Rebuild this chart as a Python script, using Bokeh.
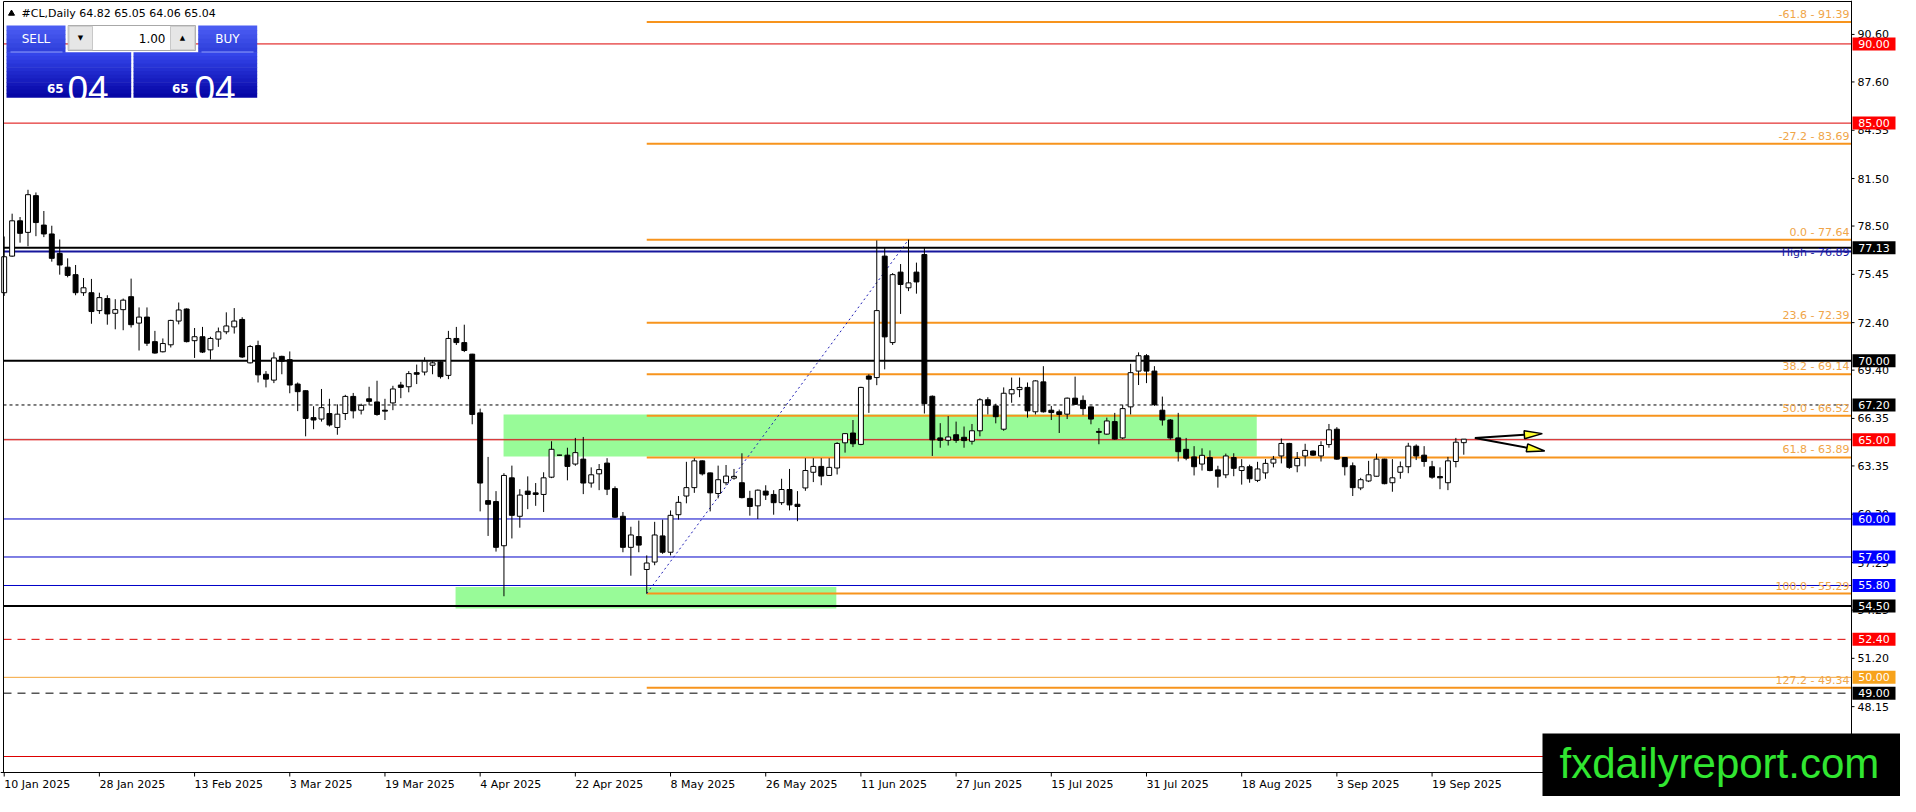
import numpy as np
from bokeh.plotting import figure
from bokeh.models import Range1d
from bokeh.core.properties import value
from bokeh.embed import file_html
from bokeh.resources import INLINE

# daily candles, one per trading day from 10 Jan 2025
opens = [74.29, 76.60, 78.83, 78.10, 80.42, 78.56, 78.00, 76.77, 75.90, 75.43,
         74.29, 74.29, 73.16, 73.92, 72.99, 73.22, 74.04, 72.37, 72.75, 71.20,
         70.56, 71.00, 72.50, 73.26, 71.26, 71.51, 70.68, 71.36, 71.82, 72.13,
         72.60, 69.86, 70.95, 69.14, 68.77, 70.27, 70.06, 68.52, 68.10, 66.40,
         66.31, 66.66, 65.78, 66.66, 67.74, 66.87, 67.59, 67.39, 66.87, 67.33,
         68.46, 68.35, 69.24, 69.28, 69.71, 69.92, 69.07, 71.40, 71.14, 70.41,
         66.70, 61.16, 61.10, 58.31, 62.60, 60.17, 61.76, 61.65, 61.55, 62.64,
         64.03, 64.03, 63.47, 63.78, 62.27, 62.85, 63.53, 61.92, 60.17, 58.21,
         58.89, 56.81, 57.28, 58.93, 57.90, 60.27, 61.45, 61.98, 63.67, 62.91,
         61.61, 62.29, 62.58, 62.29, 61.30, 60.83, 61.76, 61.55, 61.03, 61.86,
         60.93, 61.96, 62.95, 63.32, 62.75, 63.22, 64.81, 65.43, 64.71, 69.03,
         68.93, 76.60, 71.14, 75.59, 74.60, 75.59, 76.70, 67.75, 65.12, 64.97,
         65.32, 65.16, 64.91, 65.57, 67.53, 67.14, 65.67, 67.90, 68.17, 68.31,
         66.77, 68.66, 66.87, 66.77, 66.62, 67.63, 67.49, 67.08, 65.53, 65.36,
         66.15, 65.12, 67.08, 69.34, 70.31, 69.34, 66.87, 66.25, 65.12, 64.40,
         63.92, 63.47, 63.88, 63.10, 62.79, 63.88, 63.06, 63.30, 62.44, 62.91,
         63.53, 63.98, 64.77, 63.36, 63.98, 64.29, 63.98, 64.70, 65.67, 63.88,
         63.36, 61.96, 62.40, 62.70, 63.78, 62.29, 62.95, 63.30, 64.60, 64.03,
         63.30, 62.68, 62.29, 63.63, 64.82]
highs = [77.84, 79.28, 79.07, 80.79, 80.62, 79.45, 78.52, 77.65, 76.46, 76.04,
         75.22, 75.16, 74.29, 74.13, 73.88, 73.92, 75.18, 73.36, 73.36, 71.88,
         71.40, 72.58, 73.67, 73.30, 72.06, 72.13, 71.51, 72.09, 73.05, 73.32,
         72.74, 70.99, 71.26, 69.34, 70.52, 70.31, 70.58, 68.62, 68.12, 67.12,
         68.21, 67.59, 67.24, 67.84, 67.96, 67.28, 68.35, 68.73, 67.59, 68.41,
         68.66, 69.34, 69.75, 70.21, 69.96, 69.96, 71.88, 72.13, 72.27, 70.43,
         66.97, 63.92, 61.76, 62.89, 63.37, 61.88, 62.69, 62.27, 62.95, 64.91,
         64.05, 64.50, 65.12, 65.18, 63.26, 63.47, 63.84, 62.06, 60.44, 59.51,
         59.90, 57.70, 59.82, 59.96, 60.54, 61.45, 63.61, 63.84, 63.70, 62.93,
         63.37, 63.41, 63.16, 64.15, 61.78, 61.86, 62.13, 61.82, 62.54, 63.16,
         61.76, 63.84, 63.84, 63.84, 63.84, 64.85, 65.43, 66.25, 68.35, 69.14,
         77.59, 77.13, 75.53, 76.10, 77.64, 76.19, 77.11, 67.80, 66.05, 66.50,
         66.15, 65.84, 66.00, 67.63, 67.69, 67.28, 68.31, 68.93, 68.93, 68.62,
         68.76, 69.65, 67.14, 66.91, 67.67, 68.99, 67.80, 67.10, 65.74, 66.40,
         66.70, 67.22, 69.80, 70.52, 70.41, 69.65, 67.73, 66.31, 66.70, 65.12,
         64.60, 64.46, 64.33, 63.36, 64.13, 64.15, 63.78, 63.43, 63.61, 63.78,
         63.98, 65.08, 64.81, 64.23, 64.75, 64.33, 64.91, 66.00, 65.80, 63.90,
         63.57, 62.60, 63.67, 64.13, 63.80, 63.78, 63.63, 64.81, 64.71, 64.60,
         63.67, 63.26, 63.92, 65.12, 65.05]
lows = [74.09, 76.56, 77.45, 77.22, 77.86, 77.80, 76.25, 75.43, 75.26, 74.13,
        74.09, 72.33, 72.95, 72.27, 71.98, 71.92, 72.09, 70.64, 70.93, 70.44,
        70.52, 70.83, 72.29, 71.15, 70.17, 70.48, 70.07, 70.87, 71.67, 71.71,
        70.17, 69.82, 68.62, 68.31, 68.58, 69.14, 67.94, 66.81, 65.22, 65.67,
        66.15, 65.84, 65.32, 66.25, 66.35, 66.60, 67.18, 66.52, 66.25, 66.87,
        67.63, 68.00, 68.52, 69.07, 69.14, 68.87, 68.83, 70.99, 70.54, 65.98,
        60.48, 58.93, 57.94, 55.12, 58.77, 59.45, 60.62, 60.83, 60.44, 62.58,
        64.01, 62.44, 63.36, 61.57, 61.98, 61.82, 61.51, 60.07, 57.90, 56.42,
        57.90, 55.29, 57.08, 57.80, 57.70, 59.96, 60.99, 61.65, 62.75, 60.48,
        61.30, 62.13, 62.48, 61.30, 60.21, 60.00, 61.20, 60.27, 60.89, 60.54,
        59.86, 61.78, 62.33, 62.13, 62.73, 62.81, 64.19, 64.54, 64.66, 66.70,
        68.45, 69.45, 70.99, 72.95, 74.39, 74.23, 66.66, 63.98, 64.50, 64.64,
        64.81, 64.50, 64.70, 65.22, 66.60, 66.04, 65.57, 67.34, 67.69, 66.40,
        66.60, 66.72, 66.25, 65.43, 66.31, 67.22, 66.56, 65.98, 64.72, 65.32,
        65.01, 65.05, 66.60, 68.46, 68.58, 67.14, 65.90, 65.01, 63.63, 63.71,
        62.75, 63.06, 63.01, 61.98, 62.58, 62.70, 62.17, 62.29, 62.33, 62.54,
        63.26, 63.51, 63.16, 62.95, 63.32, 63.98, 63.63, 64.50, 63.74, 62.75,
        61.45, 61.82, 62.33, 62.68, 62.19, 61.72, 62.54, 62.89, 63.72, 63.30,
        62.54, 61.88, 61.82, 63.26, 64.06]
closes = [76.56, 78.83, 78.04, 80.48, 78.72, 78.00, 76.46, 76.04, 75.38, 74.29,
          74.60, 73.10, 73.98, 72.95, 73.22, 73.82, 72.27, 72.75, 71.10, 70.48,
          71.08, 72.54, 73.20, 71.20, 71.51, 70.54, 71.40, 71.82, 72.19, 72.50,
          70.23, 70.89, 69.10, 68.83, 70.17, 69.96, 68.46, 68.04, 66.35, 66.25,
          67.03, 65.94, 66.62, 67.74, 66.83, 67.18, 67.43, 66.60, 66.81, 68.21,
          68.31, 69.18, 69.14, 69.96, 69.86, 68.99, 71.40, 71.14, 70.64, 66.60,
          62.27, 60.93, 58.21, 62.75, 60.23, 61.51, 61.55, 61.55, 62.60, 64.40,
          64.03, 63.32, 64.19, 62.27, 62.79, 63.12, 61.88, 60.11, 58.21, 58.99,
          58.35, 57.22, 58.99, 57.90, 60.23, 61.05, 61.98, 63.67, 62.85, 61.65,
          62.48, 62.71, 62.69, 61.35, 60.79, 61.82, 61.51, 61.03, 61.86, 60.89,
          60.79, 63.06, 63.32, 62.71, 63.26, 64.77, 65.39, 64.75, 68.31, 68.83,
          73.16, 71.50, 75.43, 74.81, 74.91, 74.97, 67.28, 65.00, 64.97, 65.18,
          64.97, 64.95, 65.57, 67.53, 67.18, 66.46, 67.94, 68.17, 68.31, 66.83,
          68.72, 66.77, 66.72, 66.60, 67.63, 67.24, 66.97, 66.31, 65.47, 66.19,
          65.05, 66.97, 69.24, 70.31, 69.34, 67.22, 66.25, 65.12, 64.25, 63.84,
          63.30, 64.02, 63.06, 62.70, 63.98, 63.20, 63.30, 62.54, 63.16, 63.51,
          63.78, 64.77, 63.26, 63.82, 64.33, 64.03, 64.64, 65.63, 63.78, 63.30,
          61.98, 62.48, 62.79, 63.78, 62.23, 62.60, 63.30, 64.60, 63.98, 63.63,
          62.64, 62.60, 63.67, 64.85, 65.04]

date_labels = ["10 Jan 2025", "28 Jan 2025", "13 Feb 2025", "3 Mar 2025", "19 Mar 2025",
               "4 Apr 2025", "22 Apr 2025", "8 May 2025", "26 May 2025", "11 Jun 2025",
               "27 Jun 2025", "15 Jul 2025", "31 Jul 2025", "18 Aug 2025", "3 Sep 2025",
               "19 Sep 2025"]
bars_per_label = 12

price_ticks = [48.15, 51.20, 54.25, 57.25, 60.30, 63.35, 66.35, 69.40, 72.40,
               75.45, 78.50, 81.50, 84.55, 87.60, 90.60]

# horizontal levels drawn on the chart
red_levels = [90.00, 85.00, 65.00, 45.00]
blue_levels = [60.00, 57.60, 55.80]
black_levels = [77.13, 70.00, 54.50]
high_level = 76.89
dotted_level = 67.20
red_dash_level = 52.40
black_dash_level = 49.00
orange_level = 50.00

# fibonacci from the 5 May low to the June high
fib_ratios = [-61.8, -27.2, 0.0, 23.6, 38.2, 50.0, 61.8, 100.0, 127.2]
fib_prices = [91.39, 83.69, 77.64, 72.39, 69.14, 66.52, 63.89, 55.29, 49.34]
fib_from_bar = 81
fib_to_bar = 114

# green zones (bar index / price)
zone_left = [62.95, 56.9]
zone_right = [157.9, 104.9]
zone_low = [63.95, 54.35]
zone_high = [66.60, 55.70]

# two projection arrows after the last bar
arrow_from = (185.4, 65.11)
arrow_to_x = [193.9, 194.2]
arrow_to_y = [65.39, 64.29]

# ---- layout: the whole canvas is the frame, the scales are drawn by hand
W, H = 1900, 796
BL, BR, BT, BB = 3, 49, 1, 24
CW, CH = W - BL - BR, H - BT - BB
X0, X1 = -0.0875, 232.875          # chart area in bars
Y0, Y1 = 43.99, 92.68              # chart area in price
PPX = CW / (X1 - X0)
PPY = CH / (Y1 - Y0)

FONT = "DejaVu Sans"
RED, RED_BOX = "#dd0000", "#ff0000"
BLUE, BLUE_BOX = "#0000c8", "#0000ff"
NAVY = "#16169c"
ORANGE, ORANGE_TXT = "#f7941d", "#f0a548"


def fx(px):
    return X0 + (px - BL) / PPX


def fy(py):
    return Y1 - (py - BT) / PPY


p = figure(width=W, height=H, x_range=Range1d(fx(0), fx(W)), y_range=Range1d(fy(H), fy(0)),
           toolbar_location=None, output_backend="svg",
           min_border_left=0, min_border_right=0, min_border_top=0, min_border_bottom=0)
p.axis.visible = False
p.grid.visible = False
p.outline_line_color = None
p.background_fill_color = "white"
p.border_fill_color = "white"

# zones
p.quad(left=zone_left, right=zone_right, bottom=zone_low, top=zone_high,
       fill_color="#98fb98", line_color=None)


def hline(levels, color, width=1, dash="solid", start=X0):
    p.segment(x0=[start] * len(levels), x1=[X1] * len(levels), y0=levels, y1=levels,
              line_color=color, line_width=width, line_dash=dash)


hline([closes[-1]], "#b4b4b4")
hline(red_levels, RED)
hline(blue_levels, BLUE)
hline([orange_level], "#f5a53a")
hline([dotted_level], "black", dash="3 3")
hline([red_dash_level], RED, dash="8 6")
hline([black_dash_level], "black", dash="8 6")
hline(fib_prices, ORANGE, width=2, start=fib_from_bar)
hline([high_level], NAVY, width=2)
hline(black_levels, "black", width=2)

p.text(x=[X1] * len(fib_prices), y=fib_prices,
       text=[f"{r:.1f} - {v:.2f}" for r, v in zip(fib_ratios, fib_prices)],
       text_align="right", text_baseline="bottom", x_offset=-2, y_offset=-1,
       text_font=value(FONT), text_font_size="11px", text_color=ORANGE_TXT)
p.text(x=[X1], y=[high_level], text=[f"High - {high_level:.2f}"],
       text_align="right", text_baseline="alphabetic", x_offset=-2, y_offset=1,
       text_font=value(FONT), text_font_size="11px", text_color=NAVY)

# trend line from the low to the high
p.line([fib_from_bar, fib_to_bar], [fib_prices[7], fib_prices[2]],
       line_color="#1c1cb4", line_width=1, line_dash="2 3")

# candles
idx = np.arange(len(opens))
o, hi, lo, c = (np.array(a) for a in (opens, highs, lows, closes))
up = c >= o
p.segment(x0=idx, y0=lo, x1=idx, y1=hi, line_color="black", line_width=1)
p.vbar(x=idx[up], bottom=o[up], top=c[up], width=0.62,
       fill_color="white", line_color="black", line_width=1)
p.vbar(x=idx[~up], bottom=c[~up], top=o[~up], width=0.62,
       fill_color="black", line_color="black", line_width=1)

# arrows
sx, sy = arrow_from
for tx, ty in zip(arrow_to_x, arrow_to_y):
    vx, vy = (tx - sx) * PPX, (ty - sy) * PPY
    n = np.hypot(vx, vy)
    ux, uy = vx / n, vy / n
    length, half = 18, 4
    bx, by = -ux * length, -uy * length
    nx, ny = -uy * half, ux * half
    p.segment(x0=[sx], y0=[sy], x1=[tx + bx / PPX], y1=[ty + by / PPY],
              line_color="black", line_width=2)
    p.patch([tx, tx + (bx + nx) / PPX, tx + (bx - nx) / PPX],
            [ty, ty + (by + ny) / PPY, ty + (by - ny) / PPY],
            fill_color="#ffff30", line_color="black", line_width=1.5)

# chart frame and the two scales
p.segment(x0=[X0, X0, X1, fx(0)], y0=[Y0, Y1, Y0, Y0], x1=[X0, X1, X1, X1],
          y1=[Y1, Y1, fy(0), Y0], line_color="black", line_width=1)
p.segment(x0=[X1] * len(price_ticks), x1=[X1 + 3 / PPX] * len(price_ticks),
          y0=price_ticks, y1=price_ticks, line_color="black", line_width=1)
p.text(x=[X1 + 6 / PPX] * len(price_ticks), y=price_ticks,
       text=[f"{t:.2f}" for t in price_ticks], text_baseline="middle",
       text_font=value(FONT), text_font_size="11px", text_color="black")
ticks_x = [i * bars_per_label for i in range(len(date_labels))]
p.segment(x0=ticks_x, x1=ticks_x, y0=[Y0] * len(ticks_x),
          y1=[Y0 - 4 / PPY] * len(ticks_x), line_color="black", line_width=1)
p.text(x=ticks_x, y=[Y0 - 5 / PPY] * len(ticks_x), text=date_labels,
       text_align="left", text_baseline="top", text_font=value(FONT),
       text_font_size="11px", text_color="black")

# price tags on the right scale
tag_groups = [(red_levels[:3] + [red_dash_level], RED_BOX),
              (blue_levels, BLUE_BOX),
              (black_levels + [dotted_level, black_dash_level], "black"),
              ([orange_level], "#f7a21b")]
for levels, col in tag_groups:
    p.quad(left=[X1 + 1 / PPX] * len(levels), right=[X1 + 44 / PPX] * len(levels),
           bottom=[v - 6.5 / PPY for v in levels], top=[v + 6.5 / PPY for v in levels],
           fill_color=col, line_color=None)
    p.text(x=[X1 + 22.5 / PPX] * len(levels), y=levels,
           text=[f"{v:.2f}" for v in levels], text_align="center",
           text_baseline="middle", text_font=value(FONT), text_font_size="11px",
           text_color="white")

# header line
last = f"{opens[-1]:.2f} {highs[-1]:.2f} {lows[-1]:.2f} {closes[-1]:.2f}"
p.scatter(x=[fx(11)], y=[fy(13)], marker="triangle", size=6, color="black")
p.text(x=[fx(21)], y=[fy(13)], text=["#CL,Daily  " + last], text_baseline="middle",
       text_font=value(FONT), text_font_size="11px", text_color="black")


# one-click trading panel
def grad(x_a, x_b, y_a, y_b, c_top, c_bot, n):
    ys = np.linspace(y_a, y_b, n + 1)
    t0 = np.array([int(c_top[i:i + 2], 16) for i in (1, 3, 5)])
    t1 = np.array([int(c_bot[i:i + 2], 16) for i in (1, 3, 5)])
    cols = []
    for k in range(n):
        m = t0 + (t1 - t0) * k / max(n - 1, 1)
        cols.append("#%02x%02x%02x" % tuple(int(round(v)) for v in m))
    p.quad(left=[fx(x_a)] * n, right=[fx(x_b)] * n,
           top=[fy(v) for v in ys[:-1]], bottom=[fy(v + 0.6) for v in ys[1:]],
           fill_color=cols, line_color=None)


grad(6, 130.7, 51.7, 96.7, "#3445ea", "#0606a6", 12)
grad(133, 256.7, 51.7, 96.7, "#3445ea", "#0606a6", 12)
grad(6, 65, 25, 51.7, "#4a5cf2", "#3040dc", 6)
grad(197.7, 256.7, 25, 51.7, "#4a5cf2", "#3040dc", 6)
p.segment(x0=[fx(10), fx(201)], x1=[fx(62), fx(253)], y0=[fy(51.5)] * 2, y1=[fy(51.5)] * 2,
          line_color="#8c9cff", line_width=1)
p.quad(left=[fx(67.7)], right=[fx(195)], top=[fy(25)], bottom=[fy(50)],
       fill_color="white", line_color="#a8a8a8")
p.quad(left=[fx(68.5), fx(170)], right=[fx(92), fx(194.3)], top=[fy(25.8)] * 2,
       bottom=[fy(49.3)] * 2, fill_color="#e6e6e6", line_color="#c8c8c8")
p.text(x=[fx(80), fx(182)], y=[fy(37.5)] * 2, text=["\u25bc", "\u25b2"],
       text_align="center", text_baseline="middle", text_font=value(FONT),
       text_font_size="7px", text_color="black")
p.text(x=[fx(165)], y=[fy(37.5)], text=["1.00"], text_align="right",
       text_baseline="middle", text_font=value(FONT), text_font_size="12px",
       text_color="black")
p.text(x=[fx(35.5), fx(227)], y=[fy(38.5)] * 2, text=["SELL", "BUY"],
       text_align="center", text_baseline="middle", text_font=value(FONT),
       text_font_size="12px", text_color="white")
big, small = f"{closes[-1]:.2f}".split(".")[1], f"{closes[-1]:.2f}".split(".")[0]
p.text(x=[fx(46.5), fx(171.5)], y=[fy(87.5)] * 2, text=[small, small],
       text_baseline="alphabetic", text_font=value(FONT), text_font_size="12px",
       text_font_style="bold", text_color="white")
p.text(x=[fx(67), fx(194)], y=[fy(88.5)] * 2, text=[big, big],
       text_baseline="alphabetic", text_font=value("Liberation Sans"),
       text_font_size="37px", text_color="white")

# site watermark in the lower right corner
wm_left, wm_top = W - 358, H - 63
p.quad(left=[fx(wm_left)], right=[fx(W + 2)], top=[fy(wm_top)], bottom=[fy(H + 2)],
       fill_color="black", line_color=None)
p.text(x=[fx(wm_left + 17)], y=[fy(wm_top + 30)], text=["fxdailyreport.com"],
       text_baseline="middle", text_font=value("Liberation Sans"),
       text_font_size="42px", text_color="#31e631")

open("out.html", "w").write(file_html(p, INLINE))
